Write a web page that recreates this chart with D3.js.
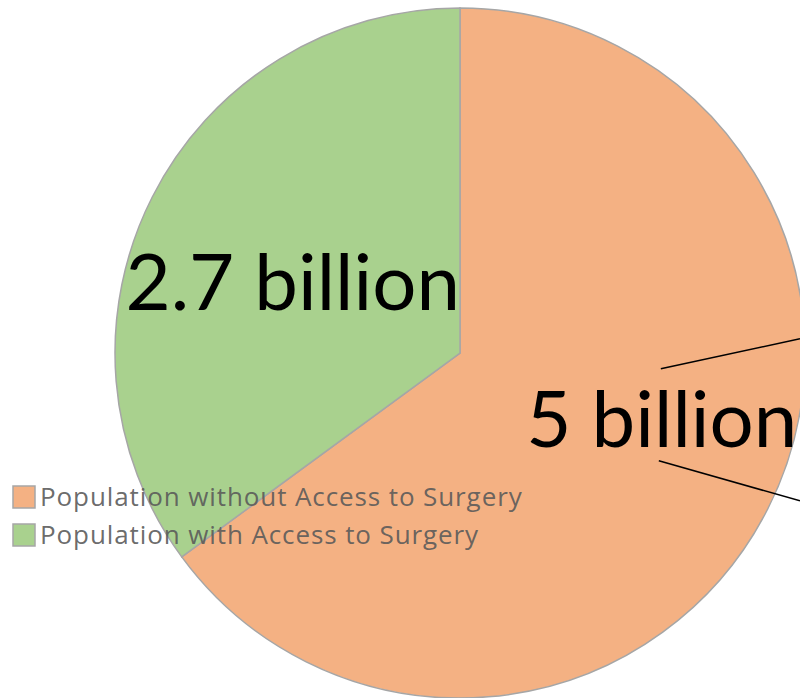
<!DOCTYPE html>
<html>
<head>
<meta charset="utf-8">
<script src="https://cdn.jsdelivr.net/npm/d3@7"></script>
<style>
  body { margin: 0; background: #fff; }
  text { font-family: Lato, "Open Sans", sans-serif; }
</style>
</head>
<body>
<div id="chart"></div>
<script>
// Data
let categories = ["Population without Access to Surgery", "Population with Access to Surgery"];
let values = [5, 2.7];
let labels = ["5 billion", "2.7 billion"];
let colors = ["#F4B183", "#A9D18E"];

let width = 800,
  height = 698;

let cx = 460,
  cy = 353,
  radius = 345;

let svg = d3
  .select("#chart")
  .append("svg")
  .attr("width", width)
  .attr("height", height);

let g = svg.append("g").attr("transform", "translate(" + cx + "," + cy + ")");

let pie = d3.pie().sort(null).value((d) => d);
let arcs = pie(values);
let arc = d3.arc().innerRadius(0).outerRadius(radius);

// Slices
g.selectAll("path.slice")
  .data(arcs)
  .join("path")
  .attr("class", "slice")
  .attr("d", arc)
  .attr("fill", (d, i) => colors[i])
  .attr("stroke", "#a6a6a6")
  .attr("stroke-width", 1.5);

// Big value labels
let labelPos = [
  { dx: 0.585, dy: 0.272 }, // orange slice, pushed right
  { dx: -0.485, dy: -0.125 }, // green slice
];
g.selectAll("text.value")
  .data(arcs)
  .join("text")
  .attr("class", "value")
  .attr("x", (d, i) => labelPos[i].dx * radius)
  .attr("y", (d, i) => labelPos[i].dy * radius)
  .attr("text-anchor", "middle")
  .attr("font-size", 78)
  .attr("fill", "#000")
  .text((d, i) => labels[i]);

// Callout lines next to "5 billion"
let lx = labelPos[0].dx * radius,
  ly = labelPos[0].dy * radius;
let callouts = [
  [[lx - 1, ly - 78], [width - cx, ly - 108]],
  [[lx - 3, ly + 14], [width - cx, ly + 54]],
];
g.selectAll("line.callout")
  .data(callouts)
  .join("line")
  .attr("class", "callout")
  .attr("x1", (d) => d[0][0])
  .attr("y1", (d) => d[0][1])
  .attr("x2", (d) => d[1][0])
  .attr("y2", (d) => d[1][1])
  .attr("stroke", "#000")
  .attr("stroke-width", 1.5);

// Legend
let legend = svg
  .append("g")
  .attr("transform", "translate(13,486)");
let rows = legend
  .selectAll("g")
  .data(categories)
  .join("g")
  .attr("transform", (d, i) => "translate(0," + i * 38 + ")");
rows
  .append("rect")
  .attr("width", 22)
  .attr("height", 22)
  .attr("fill", (d, i) => colors[i])
  .attr("stroke", "#a6a6a6")
  .attr("stroke-width", 1.5);
rows
  .append("text")
  .attr("x", 27)
  .attr("y", 20)
  .attr("font-size", 26)
  .attr("letter-spacing", 0.9)
  .style("font-family", "'Open Sans', sans-serif")
  .attr("fill", "#595959")
  .attr("fill-opacity", 0.9)
  .text((d) => d);
</script>
</body>
</html>
